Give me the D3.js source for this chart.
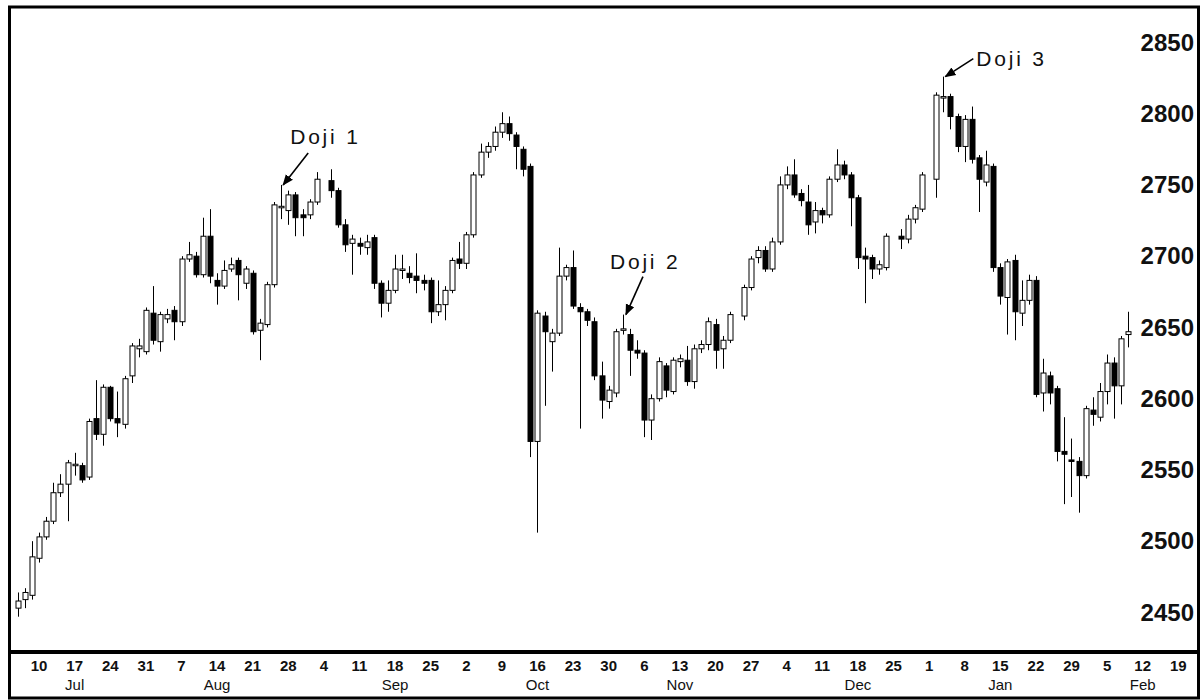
<!DOCTYPE html>
<html>
<head>
<meta charset="utf-8">
<script src="https://cdn.jsdelivr.net/npm/d3@7"></script>
<style>
  html, body { margin: 0; padding: 0; background: #fff; }
  svg { display: block; }
</style>
</head>
<body>
<svg id="chart" width="1203" height="700"></svg>
<script>
// ---------------- DATA ----------------
const dates = [
  "2017-07-05","2017-07-06","2017-07-07",
  "2017-07-10","2017-07-11","2017-07-12","2017-07-13","2017-07-14",
  "2017-07-17","2017-07-18","2017-07-19","2017-07-20","2017-07-21",
  "2017-07-24","2017-07-25","2017-07-26","2017-07-27","2017-07-28",
  "2017-07-31","2017-08-01","2017-08-02","2017-08-03","2017-08-04",
  "2017-08-07","2017-08-08","2017-08-09","2017-08-10","2017-08-11",
  "2017-08-14","2017-08-15","2017-08-16","2017-08-17","2017-08-18",
  "2017-08-21","2017-08-22","2017-08-23","2017-08-24","2017-08-25",
  "2017-08-28","2017-08-29","2017-08-30","2017-08-31","2017-09-01",
  "2017-09-05","2017-09-06","2017-09-07","2017-09-08",
  "2017-09-11","2017-09-12","2017-09-13","2017-09-14","2017-09-15",
  "2017-09-18","2017-09-19","2017-09-20","2017-09-21","2017-09-22",
  "2017-09-25","2017-09-26","2017-09-27","2017-09-28","2017-09-29",
  "2017-10-02","2017-10-03","2017-10-04","2017-10-05","2017-10-06",
  "2017-10-09","2017-10-10","2017-10-11","2017-10-12","2017-10-13",
  "2017-10-16","2017-10-17","2017-10-18","2017-10-19","2017-10-20",
  "2017-10-23","2017-10-24","2017-10-25","2017-10-26","2017-10-27",
  "2017-10-30","2017-10-31","2017-11-01","2017-11-02","2017-11-03",
  "2017-11-06","2017-11-07","2017-11-08","2017-11-09","2017-11-10",
  "2017-11-13","2017-11-14","2017-11-15","2017-11-16","2017-11-17",
  "2017-11-20","2017-11-21","2017-11-22","2017-11-24",
  "2017-11-27","2017-11-28","2017-11-29","2017-11-30","2017-12-01",
  "2017-12-04","2017-12-05","2017-12-06","2017-12-07","2017-12-08",
  "2017-12-11","2017-12-12","2017-12-13","2017-12-14","2017-12-15",
  "2017-12-18","2017-12-19","2017-12-20","2017-12-21","2017-12-22",
  "2017-12-26","2017-12-27","2017-12-28","2017-12-29",
  "2018-01-02","2018-01-03","2018-01-04","2018-01-05",
  "2018-01-08","2018-01-09","2018-01-10","2018-01-11","2018-01-12",
  "2018-01-15","2018-01-16","2018-01-17","2018-01-18","2018-01-19",
  "2018-01-22","2018-01-23","2018-01-24","2018-01-25","2018-01-26",
  "2018-01-29","2018-01-30","2018-01-31","2018-02-01","2018-02-02",
  "2018-02-05","2018-02-06","2018-02-07","2018-02-08"
];
const open = [
  2452,2458,2461,
  2487,2502,2513,2533,2539,
  2552,2552,2544,2585,2574,
  2607,2585,2581,2615,2634,
  2632,2659,2639,2655,2661,
  2653,2697,2699,2686,2713,
  2682,2678,2690,2696,2680,
  2687,2647,2651,2679,2733,
  2731,2742,2728,2728,2737,
  2752,2745,2721,2708,
  2708,2705,2712,2680,2666,
  2675,2689,2687,2685,2682,
  2682,2660,2665,2675,2697,
  2694,2714,2756,2772,2776,
  2786,2792,2784,2774,2762,
  2569,2657,2639,2645,2685,
  2691,2663,2660,2653,2615,
  2597,2603,2647,2644,2633,
  2631,2584,2599,2622,2604,
  2625,2626,2611,2634,2637,
  2651,2634,2640,2657,
  2677,2698,2703,2690,2709,
  2749,2756,2743,2737,2723,
  2731,2728,2753,2763,2756,
  2740,2699,2698,2690,2691,
  2713,2711,2725,2732,
  2753,2810,2811,2797,
  2776,2795,2768,2751,2762,
  2691,2670,2696,2659,2668,
  2682,2603,2615,2606,2562,
  2556,2555,2545,2591,2586,
  2604,2624,2608,2644
];
const high = [
  2463,2466,2499,
  2505,2516,2540,2546,2556,
  2561,2554,2585,2612,2609,
  2608,2604,2615,2638,2641,
  2663,2678,2660,2662,2664,
  2699,2709,2702,2726,2732,
  2687,2696,2698,2698,2692,
  2689,2655,2681,2737,2749,
  2745,2744,2732,2739,2758,
  2760,2747,2725,2714,
  2712,2714,2714,2682,2682,
  2700,2700,2692,2701,2686,
  2684,2682,2678,2698,2709,
  2716,2758,2778,2779,2790,
  2800,2797,2786,2776,2764,
  2661,2660,2648,2705,2693,
  2703,2666,2662,2656,2625,
  2608,2648,2658,2648,2640,
  2633,2602,2628,2624,2628,
  2630,2636,2637,2640,2656,
  2655,2643,2660,2679,
  2699,2706,2706,2712,2755,
  2762,2767,2746,2749,2737,
  2733,2755,2774,2766,2758,
  2742,2705,2700,2696,2715,
  2718,2728,2735,2758,
  2814,2825,2813,2799,
  2798,2804,2770,2773,2764,
  2694,2697,2700,2682,2686,
  2685,2627,2618,2608,2586,
  2571,2558,2594,2600,2610,
  2630,2628,2643,2660
];
const low = [
  2446,2452,2458,
  2484,2500,2511,2530,2513,
  2545,2540,2542,2570,2566,
  2583,2572,2578,2610,2628,
  2630,2637,2632,2652,2640,
  2650,2695,2684,2684,2680,
  2665,2676,2688,2668,2676,
  2644,2626,2649,2677,2725,
  2721,2713,2713,2725,2735,
  2740,2719,2702,2686,
  2700,2700,2676,2656,2660,
  2673,2683,2680,2673,2675,
  2652,2657,2654,2673,2690,
  2690,2712,2754,2768,2773,
  2782,2780,2760,2755,2558,
  2505,2594,2618,2643,2682,
  2662,2578,2650,2612,2585,
  2592,2600,2644,2615,2627,
  2572,2570,2597,2600,2602,
  2621,2608,2606,2631,2633,
  2620,2620,2638,2654,
  2675,2694,2688,2688,2707,
  2746,2740,2734,2714,2715,
  2722,2726,2751,2753,2720,
  2690,2666,2683,2686,2689,
  2704,2708,2722,2730,
  2740,2800,2788,2772,
  2765,2764,2730,2748,2688,
  2665,2644,2640,2650,2665,
  2600,2590,2595,2555,2525,
  2530,2519,2543,2580,2583,
  2595,2585,2595,2635
];
const close = [
  2457,2463,2488,
  2502,2513,2533,2539,2554,
  2553,2542,2583,2574,2607,
  2585,2582,2613,2636,2636,
  2661,2640,2658,2658,2653,
  2697,2700,2686,2713,2685,
  2678,2689,2693,2686,2690,
  2646,2652,2679,2735,2734,
  2742,2726,2726,2737,2753,
  2745,2721,2707,2711,
  2706,2709,2680,2666,2675,
  2690,2690,2684,2682,2680,
  2660,2665,2675,2696,2694,
  2714,2756,2772,2776,2786,
  2792,2785,2776,2760,2569,
  2659,2646,2645,2685,2691,
  2664,2660,2654,2615,2598,
  2605,2646,2648,2633,2631,
  2584,2599,2625,2605,2626,
  2627,2611,2634,2637,2653,
  2633,2640,2658,2677,
  2697,2703,2690,2709,2749,
  2756,2742,2738,2721,2731,
  2728,2753,2763,2756,2740,
  2698,2697,2690,2693,2713,
  2711,2725,2733,2756,
  2812,2811,2797,2776,
  2795,2767,2753,2763,2691,
  2671,2695,2660,2668,2682,
  2602,2617,2603,2562,2560,
  2555,2545,2592,2588,2604,
  2624,2608,2641,2646
];
const weekTicks = [
  "2017-07-10","2017-07-17","2017-07-24","2017-07-31","2017-08-07","2017-08-14",
  "2017-08-21","2017-08-28","2017-09-04","2017-09-11","2017-09-18","2017-09-25",
  "2017-10-02","2017-10-09","2017-10-16","2017-10-23","2017-10-30","2017-11-06",
  "2017-11-13","2017-11-20","2017-11-27","2017-12-04","2017-12-11","2017-12-18",
  "2017-12-25","2018-01-01","2018-01-08","2018-01-15","2018-01-22","2018-01-29",
  "2018-02-05","2018-02-12","2018-02-19"
];
const monthNames = ["Jul","Aug","Sep","Oct","Nov","Dec","Jan","Feb"];
const monthAnchors = ["2017-07-17","2017-08-14","2017-09-18","2017-10-16","2017-11-13","2017-12-18","2018-01-15","2018-02-12"];
const yTicks = [2450,2500,2550,2600,2650,2700,2750,2800,2850];
const dojiLabels = ["Doji 1","Doji 2","Doji 3"];
const dojiDates = ["2017-08-25","2017-11-01","2018-01-03"];

// ---------------- CHART ----------------
const svg = d3.select("#chart");
const parse = d3.timeParse("%Y-%m-%d");
const origin = parse("2017-07-03");
// business-day index (weekdays since origin Monday)
const bday = s => { const d = parse(s); return d3.timeMonday.count(origin, d) * 5 + (d.getDay() - 1); };

const x = d3.scaleLinear().domain([0, 165]).range([3.5, 3.5 + 165 * 7.12]);
const y = d3.scaleLinear().domain([2450, 2850]).range([611, 41]);

const candles = dates.map((d, i) => ({ d, o: open[i], h: high[i], l: low[i], c: close[i] }));

svg.append("rect").attr("x", 0).attr("y", 0).attr("width", 1203).attr("height", 700).attr("fill", "#fff");

const g = svg.append("g");
const bodyW = 5;

g.selectAll("line.wick").data(candles).join("line")
  .attr("class", "wick")
  .attr("x1", d => Math.round(x(bday(d.d))) + 0.5)
  .attr("x2", d => Math.round(x(bday(d.d))) + 0.5)
  .attr("y1", d => y(d.h)).attr("y2", d => y(d.l))
  .attr("stroke", "#000").attr("stroke-width", 1);

g.selectAll("rect.body").data(candles).join("rect")
  .attr("class", "body")
  .attr("x", d => Math.round(x(bday(d.d))) + 0.5 - bodyW / 2)
  .attr("width", bodyW)
  .attr("y", d => y(Math.max(d.o, d.c)))
  .attr("height", d => Math.max(1.5, Math.abs(y(d.o) - y(d.c))))
  .attr("fill", d => d.c >= d.o ? "#fff" : "#000")
  .attr("stroke", "#000").attr("stroke-width", 1);

// Y labels (right side, inside frame)
svg.append("g").selectAll("text").data(yTicks).join("text")
  .attr("x", 1194).attr("y", d => y(d) + 1)
  .attr("text-anchor", "end").attr("dominant-baseline", "central")
  .attr("font-family", "Liberation Sans, Arial, sans-serif")
  .attr("font-weight", "bold").attr("font-size", 24)
  .attr("fill", "#111")
  .text(d => d);

// X labels
const fmtDay = d3.timeFormat("%-d");
svg.append("g").selectAll("text").data(weekTicks).join("text")
  .attr("x", d => x(bday(d)))
  .attr("y", 671)
  .attr("text-anchor", "middle")
  .attr("font-family", "Liberation Sans, Arial, sans-serif")
  .attr("font-weight", "bold").attr("font-size", 15)
  .attr("fill", "#111")
  .text(d => fmtDay(parse(d)));

svg.append("g").selectAll("text").data(monthNames).join("text")
  .attr("x", (d, i) => x(bday(monthAnchors[i])))
  .attr("y", 690)
  .attr("text-anchor", "middle")
  .attr("font-family", "Liberation Sans, Arial, sans-serif")
  .attr("font-size", 15)
  .attr("fill", "#111")
  .text(d => d);

// Annotations
const defs = svg.append("defs");
defs.append("marker").attr("id", "arr").attr("viewBox", "0 0 10 10")
  .attr("refX", 9).attr("refY", 5).attr("markerWidth", 7).attr("markerHeight", 7)
  .attr("orient", "auto-start-reverse")
  .append("path").attr("d", "M0,1 L10,5 L0,9 z").attr("fill", "#000");

const annOffsets = [
  { sx: 27, sy: -32, ex: 2, ey: 0, tx: 9, ty: -41 },
  { sx: 20, sy: -38, ex: 3, ey: 0, tx: -13, ty: -46 },
  { sx: 30, sy: -18, ex: 2, ey: 0, tx: 33, ty: -11 }
];
dojiDates.forEach((dd, k) => {
  const c = candles.find(e => e.d === dd);
  const cx = x(bday(dd)), cy = y(c.h);
  const o = annOffsets[k];
  svg.append("line")
    .attr("x1", cx + o.sx).attr("y1", cy + o.sy)
    .attr("x2", cx + o.ex).attr("y2", cy + o.ey)
    .attr("stroke", "#000").attr("stroke-width", 1.6)
    .attr("marker-end", "url(#arr)");
  svg.append("text")
    .attr("x", cx + o.tx).attr("y", cy + o.ty)
    .attr("font-family", "Liberation Sans, Arial, sans-serif")
    .attr("font-size", 21).attr("letter-spacing", 2.8).attr("fill", "#111")
    .text(dojiLabels[k]);
});

// Frame
svg.append("rect").attr("x", 9.5).attr("y", 7).attr("width", 1189).attr("height", 691)
  .attr("fill", "none").attr("stroke", "#000").attr("stroke-width", 3);
svg.append("line").attr("x1", 8).attr("x2", 1200).attr("y1", 652).attr("y2", 652)
  .attr("stroke", "#000").attr("stroke-width", 4);
</script>
</body>
</html>
